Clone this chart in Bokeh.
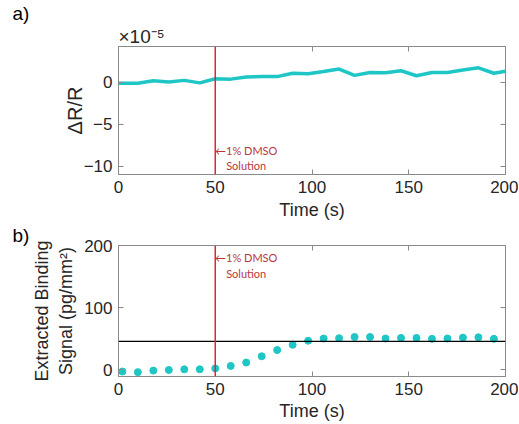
from bokeh.plotting import figure
from bokeh.layouts import column
from bokeh.models import Span, Label, LinearAxis, FixedTicker, Title
from bokeh.embed import file_html
from bokeh.resources import INLINE

# Panel a data (values in units of 1e-5)
time_a = [0, 2, 10, 18, 26, 34, 42, 50, 58, 66, 74, 82, 90, 98, 106, 114, 122,
          130, 138, 146, 154, 162, 170, 178, 186, 194, 200]
dr_a = [-0.1, -0.1, -0.1, 0.2, 0.05, 0.25, -0.05, 0.45, 0.4, 0.65, 0.7, 0.7, 1.1,
        1.05, 1.3, 1.6, 0.85, 1.2, 1.15, 1.4, 0.8, 1.2, 1.2, 1.5, 1.75, 1.1, 1.35]

# Panel b data
time_b = [2, 10, 18, 26, 34, 42, 50, 58, 66, 74, 82, 90, 98, 106, 114, 122, 130,
          138, 146, 154, 162, 170, 178, 186, 194]
signal_b = [-2.5, -3.5, -1, 0, 1, 1, 2.5, 6.5, 12, 22, 32, 40.5, 47, 50.5, 51, 53,
            53, 50.5, 51.5, 51.5, 50, 50.5, 52, 52.5, 50]
baseline_b = 46
injection_t = 50

x_ticks = [0, 50, 100, 150, 200]
ya_ticks = [-10, -5, 0]
yb_ticks = [0, 100, 200]

FONT = "Liberation Sans"
CYAN = "#1fc6c6"
RED = "#e3262b"
TXT_RED = "#b8383c"
GRAY = "#8a8a8a"
DARK = "#262626"


def mirror_axis(ticks):
    return LinearAxis(ticker=FixedTicker(ticks=ticks), major_tick_in=5, major_tick_out=0,
                      minor_tick_line_color=None, axis_line_color=GRAY,
                      major_tick_line_color=GRAY, major_label_text_font_size="1px",
                      major_label_text_color=None, major_label_standoff=0)


def style(p, xt, yt, xlab, ylab, ylab_size, ylab_standoff, xlab_standoff):
    xa = p.below[0]
    ya = p.left[0]
    xa.ticker = FixedTicker(ticks=xt)
    ya.ticker = FixedTicker(ticks=yt)
    for ax in (xa, ya):
        ax.major_tick_in = 5
        ax.major_tick_out = 0
        ax.minor_tick_line_color = None
        ax.axis_line_color = GRAY
        ax.major_tick_line_color = GRAY
        ax.major_label_text_font = FONT
        ax.major_label_text_font_size = "17px"
        ax.major_label_text_color = DARK
        ax.major_label_standoff = 6
        ax.axis_label_text_font = FONT
        ax.axis_label_text_font_style = "normal"
        ax.axis_label_text_color = DARK
    xa.axis_label = xlab
    xa.axis_label_text_font_size = "18px"
    xa.axis_label_standoff = xlab_standoff
    ya.axis_label = ylab
    ya.axis_label_text_font_size = ylab_size
    ya.axis_label_standoff = ylab_standoff
    p.xgrid.visible = False
    p.ygrid.visible = False
    p.outline_line_color = GRAY
    p.outline_line_alpha = 1.0
    p.add_layout(mirror_axis(yt), "right")
    p.add_layout(mirror_axis(xt), "above")


# ---------- Panel a ----------
pa = figure(width=518, height=222, x_range=(0, 200), y_range=(-11, 4.3),
            output_backend="svg", toolbar_location=None, title=None,
            min_border_left=118, min_border_right=13, min_border_top=43,
            min_border_bottom=47)
style(pa, x_ticks, ya_ticks, "Time (s)", "ΔR/R", "20px", -5, 4)
pa.add_layout(Title(text="×10⁻⁵", align="left", offset=0, standoff=0,
                    text_font=FONT, text_font_size="19px", text_font_style="normal",
                    text_color=DARK), "above")
pa.add_layout(Title(text="a)", align="left", offset=-106, standoff=0,
                    text_font=FONT, text_font_size="19px", text_font_style="normal",
                    text_color="black"), "above")
pa.line(time_a, dr_a, line_color=CYAN, line_width=3.5)
pa.add_layout(Span(location=injection_t, dimension="height", line_color=RED, line_width=1.5))
pa.add_layout(Label(x=66, y=-8.1, text="←1% DMSO", text_align="center", text_baseline="middle",
                    text_font="Lato", text_font_size="11px", text_color=TXT_RED))
pa.add_layout(Label(x=66, y=-9.9, text="Solution", text_align="center", text_baseline="middle",
                    text_font="Lato", text_font_size="11px", text_color=TXT_RED))

# ---------- Panel b ----------
pb = figure(width=518, height=201, x_range=(0, 200), y_range=(-10.5, 200),
            output_backend="svg", toolbar_location=None, title=None,
            min_border_left=118, min_border_right=13, min_border_top=23,
            min_border_bottom=46)
style(pb, x_ticks, yb_ticks, "Time (s)", "Extracted Binding\nSignal (pg/mm²)", "18px", 5, 3)
pb.add_layout(Title(text="b)", align="left", offset=-106, standoff=0,
                    text_font=FONT, text_font_size="19px", text_font_style="normal",
                    text_color="black"), "above")
pb.add_layout(Span(location=baseline_b, dimension="width", line_color="black", line_width=1.3))
pb.add_layout(Span(location=injection_t, dimension="height", line_color=RED, line_width=1.5))
pb.scatter(time_b, signal_b, size=7, fill_color=CYAN, line_color=CYAN)
pb.add_layout(Label(x=66, y=181, text="←1% DMSO", text_align="center", text_baseline="middle",
                    text_font="Lato", text_font_size="11px", text_color=TXT_RED))
pb.add_layout(Label(x=66, y=155, text="Solution", text_align="center", text_baseline="middle",
                    text_font="Lato", text_font_size="11px", text_color=TXT_RED))

layout = column(pa, pb, spacing=0)
open("out.html", "w").write(file_html(layout, INLINE))
